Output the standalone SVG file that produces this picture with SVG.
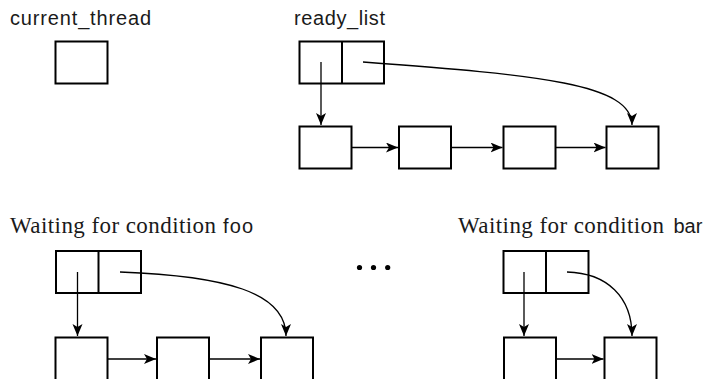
<svg xmlns="http://www.w3.org/2000/svg" width="703" height="379" viewBox="0 0 703 379">
<defs>
<marker id="ah" markerUnits="userSpaceOnUse" markerWidth="13" markerHeight="11" refX="12" refY="5" orient="auto">
<path d="M0,0 L12,5 L0,10 L3,5 z" fill="#000"/>
</marker>
<style>
.box{fill:#fff;stroke:#000;stroke-width:2}
.div{stroke:#000;stroke-width:2}
.con{fill:none;stroke:#000;stroke-width:1.3;marker-end:url(#ah)}
.sans{font-family:"Liberation Sans",Arial,sans-serif;font-size:20px;fill:#1a1a1a}
.sans2{font-family:"Liberation Sans",Arial,sans-serif;font-size:20px;fill:#1a1a1a}
.serif{font-family:"Liberation Serif","Times New Roman",serif;font-size:23px;fill:#1a1a1a}
</style>
</defs>
<rect width="703" height="379" fill="#fff"/>
<text class="sans" x="10" y="24.5" textLength="141" lengthAdjust="spacing">current_thread</text>
<text class="sans" x="294" y="24.5" textLength="91" lengthAdjust="spacing">ready_list</text>
<text class="serif" x="10" y="232.5" textLength="206" lengthAdjust="spacing">Waiting for condition</text>
<text class="sans2" x="223" y="232.5" textLength="30" lengthAdjust="spacing">foo</text>
<text class="serif" x="458" y="232.5" textLength="206" lengthAdjust="spacing">Waiting for condition</text>
<text class="sans2" x="673.5" y="232.5">bar</text>

<g id="current_thread"><rect class="box" x="55.5" y="41.5" width="52" height="42"/></g>

<g id="ready_header"><rect class="box" x="299.5" y="41.5" width="84.5" height="42"/><line class="div" x1="342" y1="41.5" x2="342" y2="83.5"/></g>
<g id="ready_n1"><rect class="box" x="299.5" y="126.5" width="52" height="42"/></g>
<g id="ready_n2"><rect class="box" x="399" y="126.5" width="52" height="42"/></g>
<g id="ready_n3"><rect class="box" x="503.5" y="126.5" width="52" height="42"/></g>
<g id="ready_n4"><rect class="box" x="606.5" y="126.5" width="52" height="42"/></g>

<g id="foo_header"><rect class="box" x="56" y="251" width="85" height="42"/><line class="div" x1="98.5" y1="251" x2="98.5" y2="293"/></g>
<g id="foo_n1"><rect class="box" x="55.5" y="337.5" width="52" height="43"/></g>
<g id="foo_n2"><rect class="box" x="157" y="337.5" width="52" height="43"/></g>
<g id="foo_n3"><rect class="box" x="261" y="337.5" width="52" height="43"/></g>

<g id="bar_header"><rect class="box" x="503.5" y="251" width="85" height="42"/><line class="div" x1="546" y1="251" x2="546" y2="293"/></g>
<g id="bar_n1"><rect class="box" x="504" y="337.5" width="52" height="43"/></g>
<g id="bar_n2"><rect class="box" x="604.5" y="337.5" width="52" height="43"/></g>

<g id="ellipsis">
<circle cx="359.5" cy="267.5" r="2.6"/><circle cx="373.5" cy="267.5" r="2.6"/><circle cx="387.7" cy="267.5" r="2.6"/>
</g>

<g id="connectors">
<path class="con" d="M321,62 V125"/>
<path class="con" d="M351.5,147.5 H398"/>
<path class="con" d="M451,147.5 H502.5"/>
<path class="con" d="M555.5,147.5 H605.5"/>
<path class="con" d="M363,62 C540,75 632,84 632,125"/>
<path class="con" d="M77.5,272 V336"/>
<path class="con" d="M107.5,359 H156"/>
<path class="con" d="M209,359 H260"/>
<path class="con" d="M120,272 C225,276 286,292 286,336"/>
<path class="con" d="M524,272 V336"/>
<path class="con" d="M556,359 H603.5"/>
<path class="con" d="M567,272 C607,273 632,297 632,336"/>
</g>
</svg>
